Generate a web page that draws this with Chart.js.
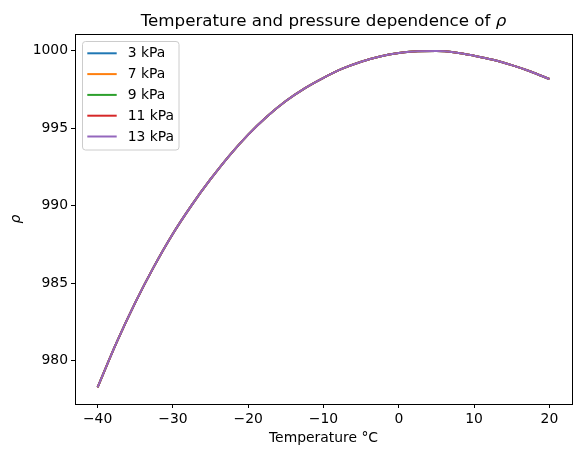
<!DOCTYPE html>
<html>
<head>
<meta charset="utf-8">
<script src="https://cdn.jsdelivr.net/npm/chart.js@4/dist/chart.umd.min.js"></script>
<style>
  html, body { margin: 0; padding: 0; background: #fff; }
  #wrap { width: 581px; height: 457px; }
</style>
</head>
<body>
<div id="wrap"><canvas id="c" width="581" height="457"></canvas></div>
<script>
// ---- data ----
const temperatures = [-40, -37.5, -35, -32.5, -30, -27.5, -25, -22.5, -20, -17.5, -15, -12.5, -10,
                      -7.5, -5, -2.5, 0, 2.5, 5, 7.5, 10, 12.5, 15, 17.5, 20];
const rho_3kPa  = [978.27, 981.14, 983.74, 986.08, 988.19, 990.04, 991.71, 993.24, 994.59, 995.76, 996.76, 997.58, 998.26,
                   998.85, 999.30, 999.64, 999.86, 999.98, 999.99, 999.90, 999.69, 999.43, 999.08, 998.67, 998.18];
const rho_7kPa  = [978.27, 981.14, 983.74, 986.08, 988.19, 990.04, 991.71, 993.24, 994.59, 995.76, 996.76, 997.58, 998.26,
                   998.85, 999.30, 999.64, 999.86, 999.98, 999.99, 999.90, 999.69, 999.43, 999.08, 998.67, 998.18];
const rho_9kPa  = [978.27, 981.14, 983.74, 986.08, 988.19, 990.04, 991.71, 993.24, 994.59, 995.76, 996.76, 997.58, 998.26,
                   998.85, 999.30, 999.64, 999.86, 999.98, 999.99, 999.90, 999.69, 999.43, 999.08, 998.67, 998.18];
const rho_11kPa = [978.27, 981.14, 983.74, 986.08, 988.19, 990.04, 991.71, 993.24, 994.59, 995.76, 996.76, 997.58, 998.26,
                   998.85, 999.30, 999.64, 999.86, 999.98, 999.99, 999.90, 999.69, 999.43, 999.08, 998.67, 998.18];
const rho_13kPa = [978.27, 981.14, 983.74, 986.08, 988.19, 990.04, 991.71, 993.24, 994.59, 995.76, 996.76, 997.58, 998.26,
                   998.85, 999.30, 999.64, 999.86, 999.98, 999.99, 999.90, 999.69, 999.43, 999.08, 998.67, 998.18];
const seriesLabels = ['3 kPa', '7 kPa', '9 kPa', '11 kPa', '13 kPa'];
const seriesColors = ['#1f77b4', '#ff7f0e', '#2ca02c', '#d62728', '#9467bd'];
const xTickValues = [-40, -30, -20, -10, 0, 10, 20];
const yTickValues = [980, 985, 990, 995, 1000];
const titleMain = 'Temperature and pressure dependence of ';
const titleSymbol = 'ρ';
const xTitle = 'Temperature °C';
const yTitle = 'ρ';

const FONT = "'DejaVu Sans', sans-serif";
const seriesValues = [rho_3kPa, rho_7kPa, rho_9kPa, rho_11kPa, rho_13kPa];

const datasets = seriesValues.map((vals, i) => ({
  label: seriesLabels[i],
  data: temperatures.map((t, j) => ({ x: t, y: vals[j] })),
  borderColor: seriesColors[i],
  backgroundColor: seriesColors[i],
  borderWidth: 2,
  pointRadius: 0,
  fill: false,
  order: seriesValues.length - i,
  cubicInterpolationMode: 'monotone'
}));

const framePlugin = {
  id: 'frame',
  afterDatasetsDraw(chart) {
    const ctx = chart.ctx, a = chart.chartArea;
    ctx.save();
    // frame
    ctx.strokeStyle = '#000';
    ctx.lineWidth = 1;
    ctx.strokeRect(Math.round(a.left) + 0.5, Math.round(a.top) + 0.5,
                   Math.round(a.right - a.left), Math.round(a.bottom - a.top));
    // legend
    const lx = 82.5, ly = 41.5, lw = 96.5, lh = 108.5, r = 3;
    ctx.beginPath();
    ctx.moveTo(lx + r, ly);
    ctx.lineTo(lx + lw - r, ly); ctx.quadraticCurveTo(lx + lw, ly, lx + lw, ly + r);
    ctx.lineTo(lx + lw, ly + lh - r); ctx.quadraticCurveTo(lx + lw, ly + lh, lx + lw - r, ly + lh);
    ctx.lineTo(lx + r, ly + lh); ctx.quadraticCurveTo(lx, ly + lh, lx, ly + lh - r);
    ctx.lineTo(lx, ly + r); ctx.quadraticCurveTo(lx, ly, lx + r, ly);
    ctx.closePath();
    ctx.fillStyle = 'rgba(255,255,255,0.8)';
    ctx.fill();
    ctx.strokeStyle = '#cccccc';
    ctx.lineWidth = 1;
    ctx.stroke();
    ctx.font = '13.9px ' + FONT;
    ctx.textBaseline = 'middle';
    ctx.textAlign = 'left';
    seriesLabels.forEach((label, i) => {
      const cy = 53.3 + i * 20.8;
      ctx.strokeStyle = seriesColors[i];
      ctx.lineWidth = 2;
      ctx.beginPath();
      ctx.moveTo(87.3, cy); ctx.lineTo(116.7, cy);
      ctx.stroke();
      ctx.fillStyle = '#000';
      ctx.fillText(label, 127.7, cy + 0.5);
    });
    // title, centred over the axes
    const cx = (a.left + a.right) / 2;
    ctx.font = '16.7px ' + FONT;
    const w1 = ctx.measureText(titleMain).width;
    ctx.font = 'italic 16.7px ' + FONT;
    const w2 = ctx.measureText(titleSymbol).width;
    const x0 = cx - (w1 + w2) / 2;
    ctx.textBaseline = 'alphabetic';
    ctx.fillStyle = '#000';
    ctx.font = '16.7px ' + FONT;
    ctx.fillText(titleMain, x0, 26.3);
    ctx.font = 'italic 16.7px ' + FONT;
    ctx.fillText(titleSymbol, x0 + w1, 26.3);
    ctx.restore();
  }
};

const fmt = v => (v < 0 ? '\u2212' + Math.abs(v) : String(v));

new Chart(document.getElementById('c'), {
  type: 'line',
  data: { datasets },
  options: {
    responsive: false,
    devicePixelRatio: 1,
    animation: false,
    layout: { padding: { left: 0, right: 9, top: 34, bottom: 0 } },
    plugins: { legend: { display: false }, title: { display: false }, tooltip: { enabled: false } },
    scales: {
      x: {
        type: 'linear',
        min: -43, max: 23,
        afterBuildTicks: s => { s.ticks = xTickValues.map(v => ({ value: v })); },
        afterFit: s => { s.height = 53; },
        grid: { display: true, drawOnChartArea: false, drawTicks: true, tickLength: 4, color: '#000', lineWidth: 1 },
        border: { display: false },
        ticks: { color: '#000', padding: 3, font: { family: FONT, size: 13.9 }, callback: v => fmt(v), maxRotation: 0, autoSkip: false },
        title: { display: true, text: xTitle, color: '#000', font: { family: FONT, size: 13.9 }, padding: { top: 0, bottom: 10 } }
      },
      y: {
        type: 'linear',
        min: 977.19, max: 1001.09,
        afterBuildTicks: s => { s.ticks = yTickValues.map(v => ({ value: v })); },
        afterFit: s => { s.width = 75; },
        grid: { display: true, drawOnChartArea: false, drawTicks: true, tickLength: 4, color: '#000', lineWidth: 1 },
        border: { display: false },
        ticks: { color: '#000', padding: 3, font: { family: FONT, size: 13.9 }, callback: v => fmt(v), autoSkip: false },
        title: { display: true, text: yTitle, color: '#000', font: { family: FONT, size: 13.9, style: 'italic' }, padding: { top: 8, bottom: 0 } }
      }
    }
  },
  plugins: [framePlugin]
});
</script>
</body>
</html>
